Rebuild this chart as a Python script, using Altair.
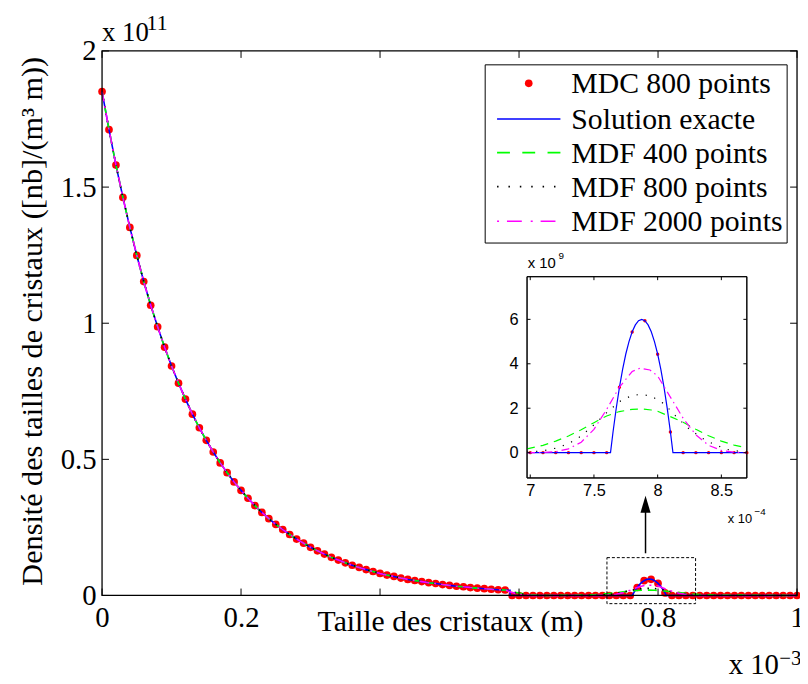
import altair as alt
import pandas as pd

W, H = 702, 550

# ---------------- data ----------------
# MDC 800 points (every 10th point shown), x in 1e-3 m, y in 1e11 [nb]/(m^3 m)
mdc_x = [round(i * 0.01, 2) for i in range(101)]
mdc_y = [1.851, 1.711, 1.581, 1.462, 1.352, 1.249, 1.153, 1.066, 0.987, 0.912,
         0.843, 0.780, 0.721, 0.666, 0.616, 0.570, 0.527, 0.487, 0.451, 0.417,
         0.386, 0.357, 0.330, 0.305, 0.282, 0.261, 0.242, 0.224, 0.207, 0.192,
         0.177, 0.164, 0.152, 0.140, 0.130, 0.120, 0.111, 0.103, 0.095, 0.088,
         0.081, 0.075, 0.070, 0.064, 0.059, 0.055, 0.051, 0.047, 0.044, 0.040,
         0.037, 0.034, 0.032, 0.029, 0.027, 0.025, 0.023, 0.021, 0.020, 0.0,
         0.0, 0.0, 0.0, 0.0, 0.0, 0.0, 0.0, 0.0, 0.0, 0.0,
         0.0, 0.0, 0.0, 0.0, 0.0, 0.0, 0.0, 0.0294, 0.0543, 0.0594,
         0.0443, 0.0093, 0.0, 0.0, 0.0, 0.0, 0.0, 0.0, 0.0, 0.0,
         0.0, 0.0, 0.0, 0.0, 0.0, 0.0, 0.0, 0.0, 0.0, 0.0, 0.0]
N_EXP = 59  # points of the exponential part (0 .. 0.58)

# pulse, inset units: x in 1e-4 m, y in 1e9
exact_px = [6.975, 7.63, 7.65, 7.675, 7.7, 7.725, 7.75, 7.775, 7.8, 7.825, 7.85, 7.875,
            7.9, 7.925, 7.95, 7.975, 8.0, 8.025, 8.05, 8.075, 8.1, 8.12, 8.7]
exact_py = [0.0, 0.0, 0.94, 2.0, 2.94, 3.75, 4.44, 5.0, 5.44, 5.75, 5.94, 6.0,
            5.94, 5.75, 5.44, 5.0, 4.44, 3.75, 2.94, 2.0, 0.94, 0.0, 0.0]
mdf400_px = [6.975, 7.1, 7.2, 7.3, 7.4, 7.5, 7.6, 7.7, 7.8, 7.87, 7.95, 8.0, 8.1,
             8.2, 8.3, 8.4, 8.5, 8.6, 8.7]
mdf400_py = [0.17, 0.33, 0.52, 0.75, 1.03, 1.35, 1.65, 1.85, 1.95, 1.97, 1.92, 1.86, 1.62,
             1.37, 1.05, 0.76, 0.52, 0.34, 0.22]
mdf800_px = [6.975, 7.1, 7.2, 7.3, 7.4, 7.5, 7.6, 7.7, 7.8, 7.87, 7.95, 8.05, 8.15,
             8.25, 8.35, 8.45, 8.55, 8.65, 8.7]
mdf800_py = [0.02, 0.08, 0.2, 0.4, 0.75, 1.25, 1.8, 2.3, 2.58, 2.62, 2.55, 2.2, 1.6,
             1.05, 0.65, 0.35, 0.14, 0.05, 0.03]
mdf2000_px = [6.975, 7.1, 7.2, 7.3, 7.4, 7.5, 7.6, 7.7, 7.8, 7.86, 7.94, 8.0, 8.1,
              8.2, 8.3, 8.4, 8.5, 8.6, 8.7]
mdf2000_py = [0.0, 0.01, 0.04, 0.17, 0.47, 1.05, 1.95, 2.95, 3.65, 3.80, 3.72, 3.45, 2.5,
              1.55, 0.8, 0.33, 0.1, 0.02, 0.0]

# front of the exponential part (main units)
front_exact_x = [0.587, 0.587]
front_exact_y = [0.019, 0.0]
front400_x = [0.59, 0.60, 0.61, 0.62, 0.64]
front400_y = [0.014, 0.009, 0.005, 0.002, 0.0]
front800_x = [0.59, 0.60, 0.61, 0.63]
front800_y = [0.013, 0.007, 0.003, 0.0]
front2000_x = [0.59, 0.60, 0.62]
front2000_y = [0.011, 0.004, 0.0]

# axes / annotations
xticks = [0, 0.2, 0.4, 0.6, 0.8, 1]
yticks = [0, 0.5, 1, 1.5, 2]
ixticks = [7, 7.5, 8, 8.5]
iyticks = [0, 2, 4, 6]
zoom_box_x = [0.7265, 0.854]
zoom_box_y = [-0.03, 0.139]
arrow_x = 0.782
arrow_y = [0.155, 0.325]
arrow_head_y = 0.335
inset_dom_x = [6.975, 8.7]
inset_dom_y = [-1.14, 7.92]
legend_labels = ["MDC 800 points", "Solution exacte", "MDF 400 points",
                 "MDF 800 points", "MDF 2000 points"]

# inset placement (pixels inside the main plot)
IL, IR, IT, IB = 429.3, 651.3, 228.0, 431.3

SERIF = "Liberation Serif"
SANS = "Liberation Sans"
FS = 29

# ---------------- frames ----------------
def main_series(front_x, front_y, px, py):
    xs_ = mdc_x[:N_EXP] + front_x + [v / 10 for v in px] + [1.0]
    ys_ = mdc_y[:N_EXP] + front_y + [v / 100 for v in py] + [0.0]
    return pd.DataFrame({"x": xs_, "y": ys_, "i": range(len(xs_))})

def inset_series(px, py):
    return pd.DataFrame({"x": px, "y": py, "i": range(len(px))})

df_dots = pd.DataFrame({"x": mdc_x, "y": mdc_y})
df_idots = pd.DataFrame({"x": [v * 10 for v in mdc_x], "y": [v * 100 for v in mdc_y]})
df_idots = df_idots[(df_idots.x >= 6.97) & (df_idots.x <= 8.71)]

xs = alt.Scale(domain=[0, 1], nice=False, zero=False)
ys = alt.Scale(domain=[0, 2], nice=False, zero=False)
x_axis = alt.Axis(values=xticks, format="~g", tickSize=0, domain=False, grid=False,
                  labelExpr="datum.value == 0.4 || datum.value == 0.6 ? '' : datum.label",
                  labelFont=SERIF, labelFontSize=FS, labelPadding=8, labelColor="black",
                  labelFlush=False, labelOverlap=False, title=None)
y_axis = alt.Axis(values=yticks, format="~g", tickSize=0, domain=False, grid=False,
                  labelFont=SERIF, labelFontSize=FS, labelPadding=6, labelColor="black",
                  labelFlush=False, labelOverlap=False, title=None)

def MX(f="x"):
    return alt.X(f, type="quantitative", scale=xs, axis=x_axis, title=None)

def MY(f="y"):
    return alt.Y(f, type="quantitative", scale=ys, axis=y_axis, title=None)

xsi = alt.Scale(domain=inset_dom_x, range=[IL, IR], nice=False, zero=False)
ysi = alt.Scale(domain=inset_dom_y, range=[IB, IT], nice=False, zero=False)
xi_axis = alt.Axis(orient="bottom", offset=-(H - IB), values=ixticks, format="~g", tickSize=0,
                   domain=False, grid=False, labelFont=SANS, labelFontSize=16.5,
                   labelPadding=5, labelColor="black", labelFlush=False,
                   labelOverlap=False, title=None)
yi_axis = alt.Axis(orient="left", offset=-IL, values=iyticks, format="~g", tickSize=0,
                   domain=False, grid=False, labelFont=SANS, labelFontSize=16.5,
                   labelPadding=9, labelColor="black", labelFlush=False,
                   labelOverlap=False, title=None)

def IX(f="x"):
    return alt.X(f, type="quantitative", scale=xsi, axis=xi_axis, title=None)

def IY(f="y"):
    return alt.Y(f, type="quantitative", scale=ysi, axis=yi_axis, title=None)

BLUE, GREEN, MAG, RED = "#0000ff", "#00ff00", "#ff00ff", "#ff0000"

# ---------------- main plot ----------------
dots = alt.Chart(df_dots).mark_circle(color=RED, size=60, opacity=1).encode(x=MX(), y=MY())

def line(df, color, dash=None, width=1.6):
    kw = dict(color=color, strokeWidth=width)
    if dash:
        kw["strokeDash"] = dash
    return alt.Chart(df).mark_line(**kw).encode(x=MX(), y=MY(), order="i:Q")

l_exact = line(main_series(front_exact_x, front_exact_y, exact_px, exact_py), BLUE)
l_400 = line(main_series(front400_x, front400_y, mdf400_px, mdf400_py), GREEN, [9, 6])
l_800 = line(main_series(front800_x, front800_y, mdf800_px, mdf800_py), "black", [1.5, 6])
l_2000 = line(main_series(front2000_x, front2000_y, mdf2000_px, mdf2000_py), MAG, [10, 5, 2, 5])

frame_df = pd.DataFrame({"x": [0], "x2": [1], "y": [0], "y2": [2]})
frame = alt.Chart(frame_df).mark_rect(fill=None, stroke="black", strokeWidth=1.3).encode(
    x=MX(), x2="x2", y=MY(), y2="y2")

xt_df = pd.DataFrame({"x": xticks})
yt_df = pd.DataFrame({"y": yticks})
tk = dict(color="black", strokeWidth=1)
ticks = [
    alt.Chart(xt_df).mark_rule(**tk).encode(x=MX(), y=alt.value(H), y2=alt.value(H - 7)),
    alt.Chart(xt_df).mark_rule(**tk).encode(x=MX(), y=alt.value(0), y2=alt.value(7)),
    alt.Chart(yt_df).mark_rule(**tk).encode(y=MY(), x=alt.value(0), x2=alt.value(7)),
    alt.Chart(yt_df).mark_rule(**tk).encode(y=MY(), x=alt.value(W), x2=alt.value(W - 7)),
]

zb_df = pd.DataFrame({"x": [zoom_box_x[0]], "x2": [zoom_box_x[1]],
                      "y": [zoom_box_y[0]], "y2": [zoom_box_y[1]]})
zoom_box = alt.Chart(zb_df).mark_rect(fill=None, stroke="black", strokeWidth=1,
                                      strokeDash=[3, 2]).encode(x=MX(), x2="x2", y=MY(), y2="y2")
ar_df = pd.DataFrame({"x": [arrow_x], "y": [arrow_y[0]], "y2": [arrow_y[1]], "yh": [arrow_head_y]})
arrow = alt.Chart(ar_df).mark_rule(color="black", strokeWidth=1.5).encode(x=MX(), y=MY(), y2="y2")
arrow_head = alt.Chart(ar_df).mark_point(shape="M0,-1L0.6,1L-0.6,1Z", filled=True, color="black",
                                         size=289, opacity=1).encode(x=MX(), y=MY("yh"))

x_title = alt.Chart(frame_df).mark_text(text="Taille des cristaux (m)", font=SERIF, fontSize=30,
                                        align="center", baseline="alphabetic", color="black").encode(
    x=alt.value(352), y=alt.value(H + 36))
y_title = alt.Chart(frame_df).mark_text(text="Densité des tailles de cristaux ([nb]/(m³ m))",
                                        font=SERIF, fontSize=30.5, align="center", angle=270,
                                        baseline="alphabetic", color="black").encode(
    x=alt.value(-61), y=alt.value(H / 2 - 2))

def txt(s, x, y, size, font=SERIF):
    return alt.Chart(frame_df).mark_text(text=s, font=font, fontSize=size, align="left",
                                         baseline="alphabetic", color="black").encode(
        x=alt.value(x), y=alt.value(y))

exps = [txt("x 10", 0, -10, 27), txt("11", 45, -21, 22),
        txt("x 10", 633, 629, 29), txt("−3", 684, 620, 21)]

# legend
LX0, LX1, LY0, LY1 = 387, 692, 14, 194
rows = [32.7, 68.7, 102.7, 137, 172]
leg_box = alt.Chart(frame_df).mark_rect(fill="white", stroke="black", strokeWidth=1).encode(
    x=alt.value(LX0), x2=alt.value(LX1), y=alt.value(LY0), y2=alt.value(LY1))
leg = [leg_box,
       alt.Chart(frame_df).mark_circle(color=RED, size=60, opacity=1).encode(
           x=alt.value(431), y=alt.value(rows[0]))]
for r, col, dash in [(1, BLUE, None), (2, GREEN, [13, 12.5]), (3, "black", [1.5, 10]),
                     (4, MAG, [2, 8, 15, 9])]:
    kw = dict(color=col, strokeWidth=1.6)
    if dash:
        kw["strokeDash"] = dash
    leg.append(alt.Chart(frame_df).mark_rule(**kw).encode(
        x=alt.value(399), x2=alt.value(463), y=alt.value(rows[r]), y2=alt.value(rows[r])))
for r, lab in enumerate(legend_labels):
    leg.append(alt.Chart(frame_df).mark_text(text=lab, font=SERIF, fontSize=30, align="left",
                                             baseline="middle", color="black").encode(
        x=alt.value(474), y=alt.value(rows[r] + 1)))

main = alt.layer(dots, l_exact, l_400, l_800, l_2000, zoom_box, arrow, arrow_head,
                 *ticks, frame, x_title, y_title, *exps, *leg)

# ---------------- inset ----------------
ifr_df = pd.DataFrame({"x": [inset_dom_x[0]], "x2": [inset_dom_x[1]],
                       "y": [inset_dom_y[0]], "y2": [inset_dom_y[1]]})
i_bg = alt.Chart(ifr_df).mark_rect(fill="white", stroke="black", strokeWidth=1).encode(
    x=IX(), x2="x2", y=IY(), y2="y2")
i_dots = alt.Chart(df_idots).mark_circle(color=RED, size=12, opacity=1).encode(x=IX(), y=IY())

def iline(px, py, color, dash=None):
    kw = dict(color=color, strokeWidth=1.2)
    if dash:
        kw["strokeDash"] = dash
    return alt.Chart(inset_series(px, py)).mark_line(**kw).encode(x=IX(), y=IY(), order="i:Q")

i_lines = [iline(exact_px, exact_py, BLUE),
           iline(mdf400_px, mdf400_py, GREEN, [8, 6]),
           iline(mdf800_px, mdf800_py, "black", [1.2, 8]),
           iline(mdf2000_px, mdf2000_py, MAG, [8, 4, 1.5, 4])]
ixt_df = pd.DataFrame({"x": ixticks})
iyt_df = pd.DataFrame({"y": iyticks})
i_ticks = [
    alt.Chart(ixt_df).mark_rule(**tk).encode(x=IX(), y=alt.value(IB), y2=alt.value(IB - 3.5)),
    alt.Chart(ixt_df).mark_rule(**tk).encode(x=IX(), y=alt.value(IT), y2=alt.value(IT + 3.5)),
    alt.Chart(iyt_df).mark_rule(**tk).encode(y=IY(), x=alt.value(IL), x2=alt.value(IL + 3.5)),
    alt.Chart(iyt_df).mark_rule(**tk).encode(y=IY(), x=alt.value(IR), x2=alt.value(IR - 3.5)),
]
i_frame = alt.Chart(ifr_df).mark_rect(fill=None, stroke="black", strokeWidth=1).encode(
    x=IX(), x2="x2", y=IY(), y2="y2")
i_exps = [txt("x 10", 430, 219, 15, SANS), txt("9", 461, 210, 10, SANS),
          txt("x 10", 632, 477, 13, SANS), txt("−4", 659, 469, 10, SANS)]

inset = alt.layer(i_bg, i_dots, *i_lines, *i_ticks, i_frame, *i_exps)

chart = alt.layer(main, inset).resolve_scale(x="independent", y="independent").properties(
    width=W, height=H, padding={"left": 95, "top": 40, "right": 3, "bottom": 86},
    autosize=alt.AutoSizeParams(type="none"), background="white"
).configure_view(stroke=None)

chart.save("out.html", embed_options={"renderer": "svg", "actions": False})
